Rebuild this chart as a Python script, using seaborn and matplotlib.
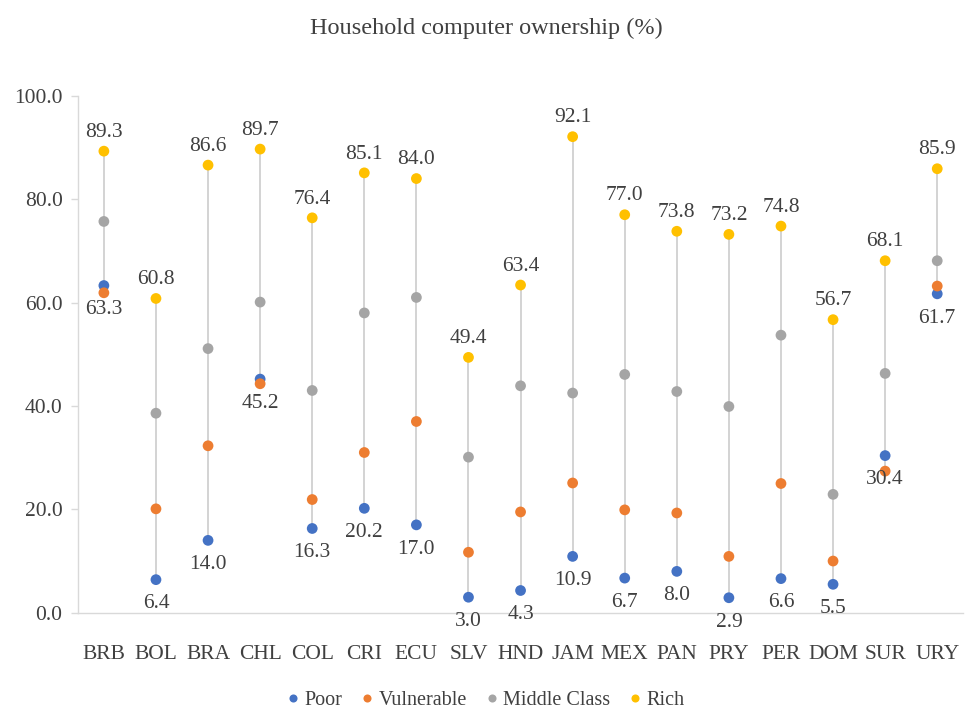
import matplotlib
matplotlib.use("Agg")
import matplotlib.pyplot as plt
import seaborn as sns
import pandas as pd
import numpy as np

countries = ["BRB", "BOL", "BRA", "CHL", "COL", "CRI", "ECU", "SLV", "HND",
             "JAM", "MEX", "PAN", "PRY", "PER", "DOM", "SUR", "URY"]
poor = [63.3, 6.4, 14.0, 45.2, 16.3, 20.2, 17.0, 3.0, 4.3,
        10.9, 6.7, 8.0, 2.9, 6.6, 5.5, 30.4, 61.7]
vulnerable = [61.9, 20.1, 32.3, 44.3, 21.9, 31.0, 37.0, 11.7, 19.5,
              25.1, 19.9, 19.3, 10.9, 25.0, 10.0, 27.4, 63.2]
middle = [75.7, 38.6, 51.1, 60.1, 43.0, 58.0, 61.0, 30.1, 43.9,
          42.5, 46.1, 42.8, 39.9, 53.7, 22.9, 46.3, 68.1]
rich = [89.3, 60.8, 86.6, 89.7, 76.4, 85.1, 84.0, 49.4, 63.4,
        92.1, 77.0, 73.8, 73.2, 74.8, 56.7, 68.1, 85.9]

groups = ["Poor", "Vulnerable", "Middle Class", "Rich"]
colors = ["#4472C4", "#ED7D31", "#A5A5A5", "#FFC000"]
yticks = [0, 20, 40, 60, 80, 100]

df = pd.DataFrame({
    "country": countries * 4,
    "group": sum([[g] * len(countries) for g in groups], []),
    "value": poor + vulnerable + middle + rich,
})

sns.set_theme(style="white")
plt.rcParams["font.family"] = ["Liberation Serif", "DejaVu Serif"]
txt = "#404040"
fs = 15.5

fig = plt.figure(figsize=(9.73, 7.10), dpi=100)
ax = fig.add_axes([0.080, 0.137, 0.910, 0.728])

xpos = np.arange(len(countries))
lo = np.minimum.reduce([poor, vulnerable, middle, rich])
hi = np.maximum.reduce([poor, vulnerable, middle, rich])
ax.vlines(xpos, lo, hi, color="#D0D0D0", lw=1.3, zorder=1)

sns.scatterplot(data=df, x="country", y="value", hue="group", hue_order=groups,
                palette=colors, s=60, edgecolor="none", ax=ax, zorder=3, legend=True)

for i in range(len(countries)):
    ax.annotate(f"{rich[i]:.1f}", (xpos[i], rich[i]), xytext=(0, 13.5),
                textcoords="offset points", ha="center", va="center",
                fontsize=fs, color=txt)
    ax.annotate(f"{poor[i]:.1f}", (xpos[i], poor[i]), xytext=(0, -17.5),
                textcoords="offset points", ha="center", va="center",
                fontsize=fs, color=txt)

ax.set_xlim(-0.5, len(countries) - 0.5)
ax.set_ylim(0, 100)
ax.set_yticks(yticks)
ax.set_yticklabels([f"{v:.1f}" for v in yticks])
ax.set_xlabel("")
ax.set_ylabel("")
for s in ["top", "right"]:
    ax.spines[s].set_visible(False)
for s in ["left", "bottom"]:
    ax.spines[s].set_color("#D9D9D9")
    ax.spines[s].set_linewidth(1.0)
ax.tick_params(axis="y", which="both", left=True, length=5, width=1.0,
               color="#D9D9D9", labelsize=fs, labelcolor=txt, pad=6)
ax.tick_params(axis="x", bottom=False, labelsize=fs, labelcolor=txt, pad=17)

handles, labels = ax.get_legend_handles_labels()
ax.legend_.remove()
fig.legend(handles, labels, loc="center", bbox_to_anchor=(0.5, 0.013),
           ncol=4, frameon=False, fontsize=14.5, handlelength=0.5,
           handletextpad=0.3, columnspacing=1.0, markerscale=0.75,
           labelcolor=txt)

fig.suptitle("Household computer ownership (%)", x=0.5, y=0.96,
             fontsize=17.5, color=txt, va="center")

fig.savefig("out.png", dpi=100)
